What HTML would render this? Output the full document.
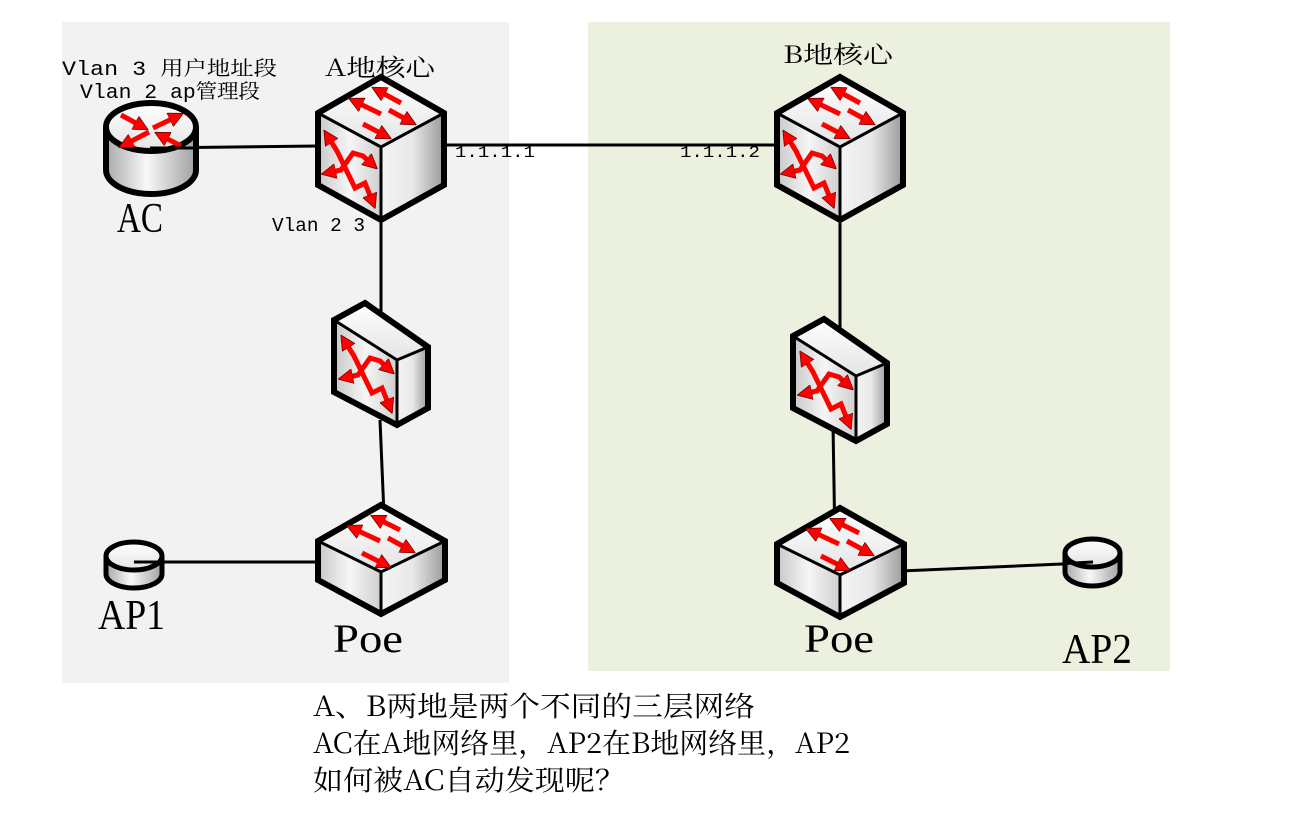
<!DOCTYPE html>
<html><head><meta charset="utf-8"><style>
html,body{margin:0;padding:0;background:#fff;}
svg{display:block;}
.m{font-family:"Liberation Mono","Noto Serif CJK SC",monospace;}
.s{font-family:"Liberation Serif","Noto Serif CJK SC",serif;}
.c{font-family:"Noto Serif CJK SC","Liberation Serif",serif;}
</style></head><body>
<svg width="1301" height="834" viewBox="0 0 1301 834" xmlns="http://www.w3.org/2000/svg">
<defs>
<linearGradient id="gr" x1="0" x2="1" y1="0" y2="0"><stop offset="0" stop-color="#f4f4f4"/><stop offset="0.5" stop-color="#e8e8e8"/><stop offset="1" stop-color="#9a9a9a"/></linearGradient>
<linearGradient id="gl" x1="0" x2="1" y1="0" y2="0"><stop offset="0" stop-color="#c8c8c8"/><stop offset="0.5" stop-color="#f6f6f6"/><stop offset="1" stop-color="#cfcfcf"/></linearGradient>
<linearGradient id="gt" x1="0" x2="0" y1="0" y2="1"><stop offset="0" stop-color="#ffffff"/><stop offset="1" stop-color="#e4e4e4"/></linearGradient>
<linearGradient id="gc" x1="0" x2="1" y1="0" y2="0"><stop offset="0" stop-color="#a8a8a8"/><stop offset="0.45" stop-color="#f8f8f8"/><stop offset="1" stop-color="#a0a0a0"/></linearGradient>
<marker id="ah" viewBox="0 0 10 10" refX="6" refY="5" markerWidth="3" markerHeight="3" orient="auto-start-reverse"><path d="M0,0 L10,5 L0,10 z" fill="#f00" stroke="#600" stroke-width="0.5"/></marker>
<g id="xarr" stroke="#f00" stroke-width="5" fill="none" marker-start="url(#ah)" marker-end="url(#ah)" stroke-linejoin="miter">
<polyline points="2,2 12,18 30,55 40,50 48,70"/>
<polyline points="2,40 16,37 28,20 38,23 48,32"/>
</g>
</defs>
<rect x="62" y="22" width="447" height="661" fill="#f2f2f2"/>
<rect x="588" y="22" width="582" height="649" fill="#ebf1de"/>

<g stroke="#000" stroke-width="3" fill="none">
<line x1="150" y1="148" x2="318" y2="146"/>
<line x1="443" y1="145" x2="778" y2="145"/>
<line x1="381" y1="220" x2="381" y2="325"/>
<line x1="380" y1="420" x2="384" y2="515"/>
<line x1="318" y1="562" x2="135" y2="562"/>
<line x1="840" y1="220" x2="840" y2="345"/>
<line x1="833" y1="425" x2="835" y2="545"/>
<line x1="878" y1="572" x2="1085" y2="563"/>
</g>

<g id="core">
<polygon points="381,77 444,113 381,147 318,113" fill="url(#gt)"/>
<polygon points="318,113 381,147 381,220 318,185" fill="url(#gl)"/>
<polygon points="381,147 444,113 444,185 381,220" fill="url(#gr)"/>
<polyline points="318,113 381,147 444,113" fill="none" stroke="#000" stroke-width="3"/>
<line x1="381" y1="147" x2="381" y2="220" stroke="#000" stroke-width="3"/>
<polygon points="381,77 444,113 444,185 381,220 318,185 318,113" fill="none" stroke="#000" stroke-width="6"/>
<g stroke="#f00" stroke-width="5" marker-end="url(#ah)">
<line x1="401" y1="103" x2="377" y2="90"/>
<line x1="381" y1="114" x2="354" y2="101"/>
<line x1="389" y1="110" x2="411" y2="122"/>
<line x1="363" y1="124" x2="386" y2="136"/>
</g>
<use href="#xarr" x="325" y="133"/>
</g>
<use href="#core" x="459" y="0"/>

<g id="sw">
<polygon points="365,303 428,347 397,360 334,320" fill="url(#gt)"/>
<polygon points="334,320 397,360 397,425 334,392" fill="url(#gl)"/>
<polygon points="397,360 428,347 428,408 397,425" fill="url(#gr)"/>
<polyline points="334,320 397,360 428,347" fill="none" stroke="#000" stroke-width="3"/>
<line x1="397" y1="360" x2="397" y2="425" stroke="#000" stroke-width="3"/>
<polygon points="365,303 428,347 428,408 397,425 334,392 334,320" fill="none" stroke="#000" stroke-width="6"/>
<use href="#xarr" x="342" y="338"/>
</g>
<use href="#sw" x="459" y="16"/>

<g id="poe">
<polygon points="381,505 445,541 381,572 318,541" fill="url(#gt)"/>
<polygon points="318,541 381,572 381,614 318,580" fill="url(#gl)"/>
<polygon points="381,572 445,541 445,580 381,614" fill="url(#gr)"/>
<polyline points="318,541 381,572 445,541" fill="none" stroke="#000" stroke-width="3"/>
<line x1="381" y1="572" x2="381" y2="614" stroke="#000" stroke-width="3"/>
<polygon points="381,505 445,541 445,580 381,614 318,580 318,541" fill="none" stroke="#000" stroke-width="6"/>
<g stroke="#f00" stroke-width="5" marker-end="url(#ah)">
<line x1="400" y1="530" x2="376" y2="518"/>
<line x1="380" y1="541" x2="352" y2="528"/>
<line x1="388" y1="538" x2="410" y2="550"/>
<line x1="362" y1="553" x2="386" y2="565"/>
</g>
</g>
<use href="#poe" x="459" y="3"/>

<path d="M106,127 L106,170 A45,24 0 0 0 196,170 L196,127" fill="url(#gc)" stroke="#000" stroke-width="6"/>
<ellipse cx="151" cy="127" rx="45" ry="24" fill="url(#gt)" stroke="#000" stroke-width="6"/>
<g stroke="#f00" stroke-width="5" marker-end="url(#ah)">
<line x1="121" y1="115" x2="143" y2="127"/>
<line x1="153" y1="128" x2="178" y2="116"/>
<line x1="149" y1="132" x2="124" y2="145"/>
<line x1="181" y1="146" x2="160" y2="135"/>
</g>
<line x1="150" y1="148" x2="196" y2="148" stroke="#000" stroke-width="3"/>

<path d="M106,556 L106,574 A28,14 0 0 0 162,574 L162,556" fill="url(#gc)" stroke="#000" stroke-width="5"/>
<ellipse cx="134" cy="556" rx="28" ry="14" fill="url(#gt)" stroke="#000" stroke-width="5"/>
<line x1="134" y1="562" x2="162" y2="562" stroke="#000" stroke-width="3"/>
<path d="M1065,553 L1065,572 A27.5,14 0 0 0 1120,572 L1120,553" fill="url(#gc)" stroke="#000" stroke-width="5"/>
<ellipse cx="1092.5" cy="553" rx="27.5" ry="14" fill="url(#gt)" stroke="#000" stroke-width="5"/>
<line x1="1065" y1="563.5" x2="1093" y2="562" stroke="#000" stroke-width="3"/>

<g fill="#000">
<text class="m" x="62" y="75" font-size="20" textLength="215" lengthAdjust="spacingAndGlyphs">Vlan 3  用户地址段</text>
<text class="m" x="80" y="98" font-size="20" textLength="180" lengthAdjust="spacingAndGlyphs">Vlan 2 ap管理段</text>
<text class="c" x="325" y="76" font-size="24" textLength="110" lengthAdjust="spacingAndGlyphs">A地核心</text>
<text class="c" x="783" y="63" font-size="24" textLength="110" lengthAdjust="spacingAndGlyphs">B地核心</text>
<text class="m" x="272" y="231" font-size="19" textLength="93" lengthAdjust="spacingAndGlyphs">Vlan 2 3</text>
<text class="m" x="455" y="157" font-size="17" textLength="80" lengthAdjust="spacingAndGlyphs">1.1.1.1</text>
<text class="m" x="680" y="157" font-size="17" textLength="80" lengthAdjust="spacingAndGlyphs">1.1.1.2</text>
<text class="s" x="117" y="232" font-size="42" textLength="46" lengthAdjust="spacingAndGlyphs">AC</text>
<text class="s" x="98" y="629" font-size="42" textLength="67" lengthAdjust="spacingAndGlyphs">AP1</text>
<text class="s" x="1062" y="663" font-size="42" textLength="70" lengthAdjust="spacingAndGlyphs">AP2</text>
<text class="s" x="333" y="652" font-size="40" textLength="70" lengthAdjust="spacingAndGlyphs">Poe</text>
<text class="s" x="804" y="652" font-size="40" textLength="70" lengthAdjust="spacingAndGlyphs">Poe</text>
<text class="c" x="313" y="716" font-size="28" textLength="442" lengthAdjust="spacingAndGlyphs">A、B两地是两个不同的三层网络</text>
<text class="c" x="313" y="753" font-size="28" textLength="537" lengthAdjust="spacingAndGlyphs">AC在A地网络里，AP2在B地网络里，AP2</text>
<text class="c" x="313" y="790" font-size="28" textLength="312" lengthAdjust="spacingAndGlyphs">如何被AC自动发现呢？</text>
</g>
</svg>
</body></html>
